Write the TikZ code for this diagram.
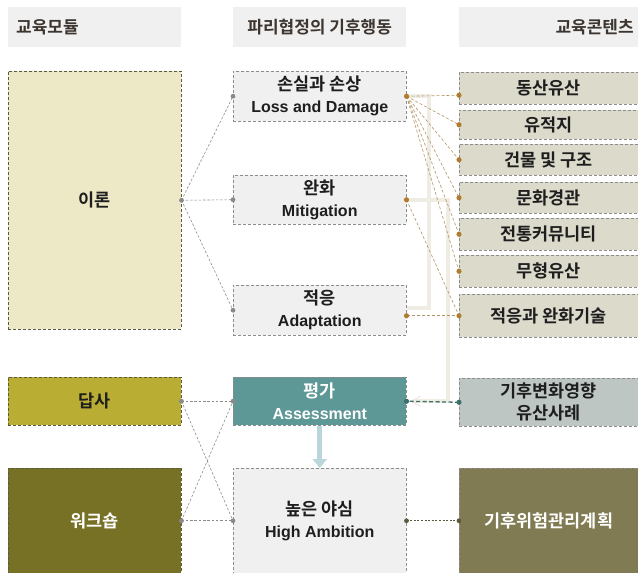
\documentclass[tikz,border=0pt]{standalone}
\usepackage{fontspec}
\setmainfont{Liberation Sans}
\newfontfamily\krfam{Noto Sans CJK KR}[BoldFont={Noto Sans CJK KR Bold}]
\newcommand{\kr}{\krfam\fontsize{17.5}{22}\selectfont}
\usetikzlibrary{arrows.meta,calc}
\definecolor{hdrfill}{HTML}{F0F0F0}
\definecolor{hdrtext}{HTML}{3C3530}
\definecolor{txt}{HTML}{1E1E1E}
\definecolor{theoryfill}{HTML}{EDE8C5}
\definecolor{dapsafill}{HTML}{B9AE33}
\definecolor{workfill}{HTML}{777126}
\definecolor{midfill}{HTML}{F0F0F0}
\definecolor{assessfill}{HTML}{5E9896}
\definecolor{rightfill}{HTML}{DCDACB}
\definecolor{casefill}{HTML}{BEC6C3}
\definecolor{planfill}{HTML}{807B52}
\definecolor{bordergray}{HTML}{8C8C8C}
\definecolor{graylink}{HTML}{8A8A8A}
\definecolor{brownlink}{HTML}{B39466}
\definecolor{browndot}{HTML}{B07D2E}
\definecolor{palelink}{HTML}{EEECE3}
\definecolor{paletip}{HTML}{F2E6E0}
\definecolor{teallink}{HTML}{3E6E6A}
\definecolor{darklink}{HTML}{5A5A3E}
\definecolor{bluearrow}{HTML}{BBD6DA}
\tikzset{
  box/.style={draw=bordergray, densely dashed, line width=0.5pt, inner sep=0pt,
    align=center, text=txt, font=\fontsize{16}{22}\selectfont\bfseries,
    anchor=north west},
  hdrbox/.style={fill=hdrfill, draw=none, inner sep=0pt, anchor=north west,
    text=hdrtext, font=\bfseries\krfam\fontsize{17}{20}\selectfont},
  graylinkstyle/.style={draw=graylink, line width=0.6pt, dash pattern=on 2.5pt off 1.8pt},
  brownlinkstyle/.style={draw=brownlink, line width=0.6pt, dash pattern=on 3pt off 2pt},
  palestyle/.style={draw=palelink, line width=4pt},
}
\newcommand{\gdot}[1]{\fill[graylink] (#1) circle (2.4pt);}
\newcommand{\bdot}[1]{\fill[browndot] (#1) circle (2.6pt);}
\begin{document}
\begin{tikzpicture}[x=1pt,y=-1pt]
\useasboundingbox (0,0) rectangle (638,573);
% headers
\node[hdrbox, minimum width=173pt, minimum height=40pt, text width=157pt, align=left] (h1) at (8,7) {교육모듈};
\node[hdrbox, minimum width=173pt, minimum height=40pt, align=center] (h2) at (233,7) {파리협정의 기후행동};
\node[hdrbox, minimum width=179pt, minimum height=40pt, text width=170pt, align=right] (h3) at (459,7) {교육콘텐츠};
% left column
\node[box, fill=theoryfill, draw=darklink, minimum width=173pt, minimum height=258pt] (theory) at (8,71) {\kr 이론};
\node[box, fill=dapsafill, draw=darklink, minimum width=173pt, minimum height=48pt] (dapsa) at (8,377) {\kr 답사};
\node[box, fill=workfill, draw=darklink, text=white, minimum width=173pt, minimum height=105pt] (work) at (8,468) {\kr 워크숍};
% middle column
\node[box, fill=midfill, minimum width=173pt, minimum height=50pt] (loss) at (233,71) {{\kr 손실과 손상}\\Loss and Damage};
\node[box, fill=midfill, minimum width=173pt, minimum height=49pt] (mitig) at (233,175) {{\kr 완화}\\Mitigation};
\node[box, fill=midfill, minimum width=173pt, minimum height=50pt] (adapt) at (233,285) {{\kr 적응}\\Adaptation};
\node[box, fill=assessfill, text=white, minimum width=173pt, minimum height=48pt] (assess) at (233,377) {{\kr 평가}\\Assessment};
\node[box, fill=midfill, minimum width=173pt, minimum height=105pt] (high) at (233,468) {{\kr 높은 야심}\\High Ambition};
% right column
\node[box, fill=rightfill, minimum width=179pt, minimum height=32pt] (r1) at (459,72) {\kr 동산유산};
\node[box, fill=rightfill, minimum width=179pt, minimum height=29pt] (r2) at (459,110) {\kr 유적지};
\node[box, fill=rightfill, minimum width=179pt, minimum height=31pt] (r3) at (459,144) {\kr 건물 및 구조};
\node[box, fill=rightfill, minimum width=179pt, minimum height=31pt] (r4) at (459,182) {\kr 문화경관};
\node[box, fill=rightfill, minimum width=179pt, minimum height=32pt] (r5) at (459,218) {\kr 전통커뮤니티};
\node[box, fill=rightfill, minimum width=179pt, minimum height=32pt] (r6) at (459,255) {\kr 무형유산};
\node[box, fill=rightfill, minimum width=179pt, minimum height=43pt] (r7) at (459,294) {\kr 적응과 완화기술};
\node[box, fill=casefill, minimum width=179pt, minimum height=48pt] (r8) at (459,378) {\kr 기후변화영향\\\kr 유산사례};
\node[box, fill=planfill, text=white, minimum width=179pt, minimum height=105pt] (r9) at (459,468) {\kr 기후위험관리계획};
% pale structural lines
\draw[palestyle] (loss.east) -- ++(22,0) |- ($(adapt.east)+(0,-2)$);
\draw[palestyle] (mitig.east) -- ++(41,0) |- ($(assess.east)+(6,0)$);
\draw[paletip, line width=1pt] ($(assess.east)+(14,-5)$) -- ($(assess.east)+(5,0)$) -- ($(assess.east)+(14,5)$);
% blue arrow
\draw[bluearrow, line width=5pt, -{Triangle[length=9pt,width=14pt]}] (assess.south) -- (high.north);
% gray links
\draw[graylinkstyle] (theory.east) -- (loss.west);
\draw[graylinkstyle] (theory.east) -- (mitig.west);
\draw[graylinkstyle] (theory.east) -- (adapt.west);
\draw[graylinkstyle] (dapsa.east) -- (assess.west);
\draw[graylinkstyle] (dapsa.east) -- (high.west);
\draw[graylinkstyle] (work.east) -- (assess.west);
\draw[graylinkstyle] (work.east) -- (high.west);
% brown links
\coordinate (r1in) at ($(r1.west |- loss.east)+(0,-1)$);
\coordinate (adout) at (adapt.east |- r7.west);
\draw[brownlinkstyle] (loss.east) -- (r1in);
\draw[brownlinkstyle] (loss.east) -- (r2.west);
\draw[brownlinkstyle] (loss.east) -- (r3.west);
\draw[brownlinkstyle] (loss.east) -- (r4.west);
\draw[brownlinkstyle] (loss.east) -- (r5.west);
\draw[brownlinkstyle] (loss.east) -- (r6.west);
\draw[brownlinkstyle] (mitig.east) -- (r7.west);
\draw[brownlinkstyle] (adout) -- (r7.west);
% teal and dark links
\draw[teallink, line width=1.3pt, dash pattern=on 4pt off 2.5pt] (r8.west) -- (assess.east);
\draw[darklink, line width=0.9pt, dash pattern=on 2pt off 1.6pt] (high.east) -- (r9.west);
% dots
\gdot{theory.east}\gdot{loss.west}\gdot{mitig.west}\gdot{adapt.west}
\gdot{dapsa.east}\gdot{work.east}\gdot{assess.west}\gdot{high.west}
\bdot{loss.east}\bdot{mitig.east}\bdot{adout}
\bdot{r1in}\bdot{r2.west}\bdot{r3.west}\bdot{r4.west}\bdot{r5.west}\bdot{r6.west}\bdot{r7.west}
\fill[teallink] (assess.east) circle (2.6pt);
\fill[teallink] (r8.west) circle (2.6pt);
\fill[darklink] (high.east) circle (2.4pt);
\fill[darklink] (r9.west) circle (2.4pt);
\end{tikzpicture}
\end{document}
